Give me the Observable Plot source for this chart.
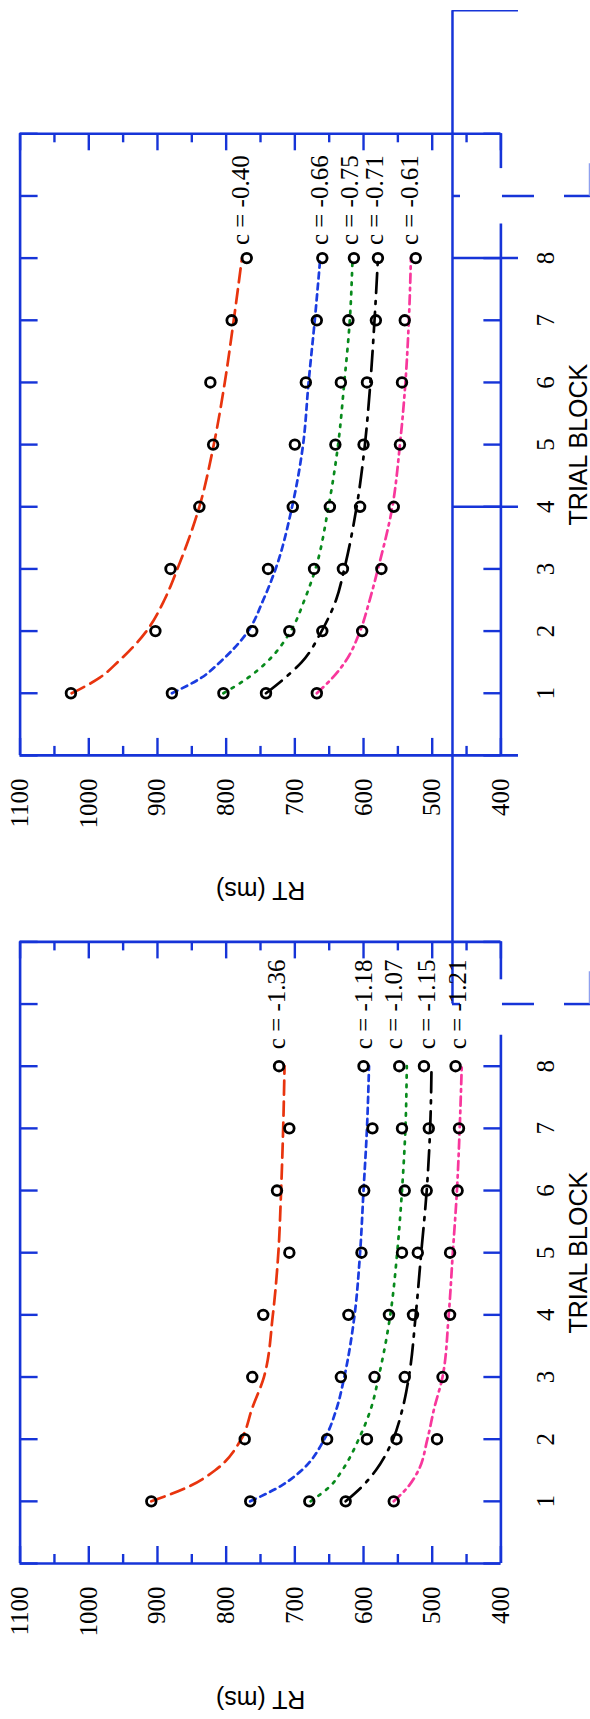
<!DOCTYPE html>
<html><head><meta charset="utf-8">
<script src="https://cdn.jsdelivr.net/npm/d3@7"></script>
<script src="https://cdn.jsdelivr.net/npm/@observablehq/plot@0.6"></script>
<style>html,body{margin:0;padding:0;background:#fff}#chart svg{display:block}</style>
</head><body><div id="chart"></div>
<script>
// ---------- data ----------
const trialBlocks = [1, 2, 3, 4, 5, 6, 7, 8];
const fitBlocks = [1, 1.25, 1.5, 2, 2.5, 3, 4, 5, 6, 7, 8];
const rtMajorTicks = [1100, 1000, 900, 800, 700, 600, 500, 400];
const rtMinorTicks = [1050, 950, 850, 750, 650, 550, 450];
const blockTicks = [0, 1, 2, 3, 4, 5, 6, 7, 8, 9, 10];
const blockTickLabels = [1, 2, 3, 4, 5, 6, 7, 8];
const seriesColors = ["#e8340e", "#1a3ce0", "#088a1c", "#000000", "#f8379c"];
const seriesDash = ["14,7", "6,5", "2.5,7", "20,8,3,8", "9,5,2.5,5"];

// upper panel: observed mean RT per trial block
const upperRed   = [1026, 903, 881, 839, 819, 823, 792, 770];
const upperBlue  = [879, 762, 739, 703, 700, 684, 668, 660];
const upperGreen = [804, 708, 672, 649, 641, 633, 622, 614];
const upperBlack = [742, 660, 630, 605, 600, 595, 582, 579];
const upperPink  = [668, 602, 574, 556, 547, 544, 540, 524];
// upper panel: fitted curves at fitBlocks
const upperRedFit   = [1025, 984, 958, 916, 890, 871, 839, 818, 802, 789, 777];
const upperBlueFit  = [879, 836, 809, 768, 746, 728, 704, 688, 680, 671, 663];
const upperGreenFit = [804, 768, 741, 706, 686, 670, 651, 637, 628, 620, 616];
const upperBlackFit = [742, 714, 690, 661, 640, 628, 610, 598, 590, 584, 579];
const upperPinkFit  = [668, 645, 627, 605, 591, 579, 558, 547, 539, 534, 531];
const upperLabels = ["c = -0.40", "c = -0.66", "c = -0.75", "c = -0.71", "c = -0.61"];
const upperLabelRT = [778, 663, 619, 584, 532];

// lower panel
const lowerRed   = [909, 773, 762, 746, 708, 726, 708, 723];
const lowerBlue  = [765, 653, 633, 622, 603, 599, 587, 600];
const lowerGreen = [679, 595, 584, 563, 544, 540, 544, 548];
const lowerBlack = [626, 552, 540, 528, 521, 508, 505, 512];
const lowerPink  = [556, 493, 485, 474, 474, 463, 461, 466];
const lowerRedFit   = [909, 852, 816, 778, 762, 745, 732, 724, 720, 717, 715];
const lowerBlueFit  = [765, 720, 690, 657, 639, 628, 613, 605, 600, 595, 592];
const lowerGreenFit = [677, 648, 631, 607, 589, 578, 561, 551, 544, 539, 537];
const lowerBlackFit = [626, 601, 582, 557, 543, 534, 524, 516, 508, 503, 501];
const lowerPinkFit  = [556, 534, 520, 507, 497, 485, 476, 470, 464, 460, 457];
const lowerLabels = ["c = -1.36", "c = -1.18", "c = -1.07", "c = -1.15", "c = -1.21"];
const lowerLabelRT = [726, 600, 556, 507, 463];

// axis break on the right edge (block units) and stray crop marks of the scan (RT / block units)
const upperBreak = [8.55, 9.44];
const lowerBreak = [8.5, 9.39];
const strayLineRT = 470.5;
const strayStubRT = 458.8;
const strayEndRT = 374.4;
const strayDashesRT = [[397.7, 351.1], [307.4, 269.6]];
const strayEdgeRT = 271;
const strayTopBlock = 11.98;
const strayRowBlocks = [8, 4];

// ---------- layout ----------
const AX = "#1634d8";
const SERIF = "'Liberation Serif','Times New Roman',Times,serif";
const SANS = "'Liberation Sans',Arial,Helvetica,sans-serif";
const panels = [
  {base: 13, obs: [upperRed, upperBlue, upperGreen, upperBlack, upperPink],
   fit: [upperRedFit, upperBlueFit, upperGreenFit, upperBlackFit, upperPinkFit],
   labels: upperLabels, labelRT: upperLabelRT, brk: upperBreak, bottomEnd: strayEndRT, labelDy: -13},
  {base: 0, obs: [lowerRed, lowerBlue, lowerGreen, lowerBlack, lowerPink],
   fit: [lowerRedFit, lowerBlueFit, lowerGreenFit, lowerBlackFit, lowerPinkFit],
   labels: lowerLabels, labelRT: lowerLabelRT, brk: lowerBreak, bottomEnd: 400, labelDy: -17}
];

const marks = [];

// stray marks
const up = panels[0], lo = panels[1];
marks.push(Plot.ruleX([{x: strayLineRT, y1: up.base + strayTopBlock, y2: lo.base + 9}],
  {x: "x", y1: "y1", y2: "y2", stroke: AX, strokeWidth: 2.5}));
marks.push(Plot.ruleY([{y: up.base + strayTopBlock, x1: strayLineRT, x2: strayEndRT}],
  {y: "y", x1: "x1", x2: "x2", stroke: AX, strokeWidth: 1.4}));
marks.push(Plot.ruleY(strayRowBlocks.map(b => ({y: up.base + b, x1: strayLineRT, x2: strayEndRT})),
  {y: "y", x1: "x1", x2: "x2", stroke: AX, strokeWidth: 2.5}));
const breakRows = [];
for (const p of panels) {
  breakRows.push({y: p.base + 9, x1: strayLineRT, x2: strayStubRT});
  for (const [a, b] of strayDashesRT) breakRows.push({y: p.base + 9, x1: a, x2: b});
}
marks.push(Plot.ruleY(breakRows, {y: "y", x1: "x1", x2: "x2", stroke: AX, strokeWidth: 2.5}));
marks.push(Plot.ruleX(panels.map(p => ({x: strayEdgeRT, y1: p.base + 9, y2: p.base + 9.52})),
  {x: "x", y1: "y1", y2: "y2", stroke: "#8fa0ee", strokeWidth: 1.5}));

for (const p of panels) {
  // frame
  const fx = [
    {x: 1100, y1: p.base, y2: p.base + 10},
    {x: 400, y1: p.base, y2: p.base + p.brk[0]},
    {x: 400, y1: p.base + p.brk[1], y2: p.base + 10}
  ];
  const fy = [
    {y: p.base + 10, x1: 1100, x2: 400},
    {y: p.base, x1: 1100, x2: p.bottomEnd}
  ];
  marks.push(Plot.ruleX(fx, {x: "x", y1: "y1", y2: "y2", stroke: AX, strokeWidth: 2.6}));
  marks.push(Plot.ruleY(fy, {y: "y", x1: "x1", x2: "x2", stroke: AX, strokeWidth: 2.6}));
  // RT ticks (bottom & top, inward)
  const maj = rtMajorTicks.map(v => ({v, b: p.base, t: p.base + 10}));
  const min = rtMinorTicks.map(v => ({v, b: p.base, t: p.base + 10}));
  marks.push(Plot.ruleX(maj, {x: "v", y1: "b", y2: "b", insetTop: -17, stroke: AX, strokeWidth: 2.4}));
  marks.push(Plot.ruleX(min, {x: "v", y1: "b", y2: "b", insetTop: -9, stroke: AX, strokeWidth: 2.4}));
  marks.push(Plot.ruleX(maj, {x: "v", y1: "t", y2: "t", insetBottom: -17, stroke: AX, strokeWidth: 2.4}));
  marks.push(Plot.ruleX(min, {x: "v", y1: "t", y2: "t", insetBottom: -9, stroke: AX, strokeWidth: 2.4}));
  // block ticks (left & right, inward)
  marks.push(Plot.ruleY(blockTicks.map(b => ({y: p.base + b})),
    {y: "y", x1: () => 1100, x2: () => 1100, insetRight: -18, stroke: AX, strokeWidth: 2.4}));
  marks.push(Plot.ruleY(blockTicks.filter(b => b !== 9).map(b => ({y: p.base + b})),
    {y: "y", x1: () => 400, x2: () => 400, insetLeft: -17, stroke: AX, strokeWidth: 2.4}));

  // fitted curves
  p.fit.forEach((vals, s) => {
    const rows = fitBlocks.map((b, i) => ({rt: vals[i], y: b + p.base}));
    marks.push(Plot.line(rows, {x: "rt", y: "y", stroke: seriesColors[s], strokeWidth: 2.7,
      strokeDasharray: seriesDash[s], curve: "monotone-y"}));
  });
  // observed points
  const obsRows = [];
  p.obs.forEach(vals => trialBlocks.forEach((b, i) => obsRows.push({rt: vals[i], y: b + p.base})));
  marks.push(Plot.dot(obsRows, {x: "rt", y: "y", r: 4.8, stroke: "black", strokeWidth: 2.8, fill: "none"}));

  // curve labels
  marks.push(Plot.text(p.labels.map((t, s) => ({t, rt: p.labelRT[s], y: p.base + 8})),
    {x: "rt", y: "y", text: "t", rotate: -90, textAnchor: "start", lineAnchor: "middle",
     dy: p.labelDy, fontSize: 25, fontFamily: SERIF, fill: "black"}));
  // RT tick labels
  marks.push(Plot.text(rtMajorTicks.map(v => ({v, y: p.base})),
    {x: "v", y: "y", text: d => String(d.v), rotate: -90, textAnchor: "end", lineAnchor: "middle",
     dy: 23, fontSize: 25, fontFamily: SERIF, fill: "black"}));
  // block tick labels
  marks.push(Plot.text(blockTickLabels.map(b => ({b, y: p.base + b})),
    {y: "y", frameAnchor: "right", dx: 45, text: d => String(d.b), rotate: -90, textAnchor: "middle",
     lineAnchor: "middle", fontSize: 25, fontFamily: SERIF, fill: "black"}));
  // axis titles
  marks.push(Plot.text([{y: p.base + 5}],
    {y: "y", frameAnchor: "right", dx: 78, text: () => "TRIAL BLOCK", rotate: -90, textAnchor: "middle",
     lineAnchor: "middle", fontSize: 25, fontFamily: SANS, fill: "black"}));
  marks.push(Plot.text([{x: 750, y: p.base}],
    {x: "x", y: "y", dy: 135, text: () => "RT (ms)", rotate: 180, textAnchor: "middle",
     lineAnchor: "middle", fontSize: 25, fontFamily: SANS, fill: "black"}));
}

const chart = Plot.plot({
  width: 590, height: 1719,
  marginTop: 133.3, marginBottom: 156, marginLeft: 19.6, marginRight: 89.6,
  x: {domain: [1100, 400], axis: null},
  y: {domain: [0, 23], axis: null},
  style: {background: "white", fontFamily: SERIF, overflow: "visible"},
  marks
});
document.getElementById("chart").appendChild(chart);
</script>
</body></html>
